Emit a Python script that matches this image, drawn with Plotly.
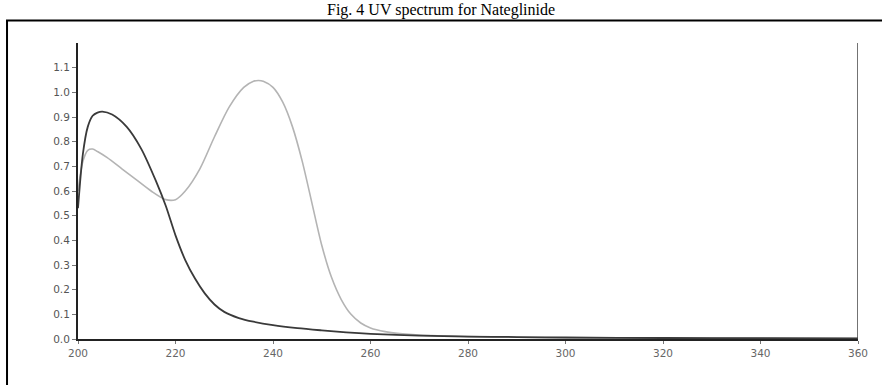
import plotly.graph_objects as go

# Wavelength (nm) and absorbance values
wl_dark = [200, 201, 202, 203, 204, 205, 207, 210, 213, 216, 218, 220, 222, 224, 226, 228, 230, 233, 236, 240, 245, 250, 255, 260, 270, 280, 290, 300, 320, 340, 360]
abs_dark = [0.53, 0.75, 0.86, 0.905, 0.918, 0.922, 0.91, 0.86, 0.77, 0.64, 0.54, 0.42, 0.32, 0.245, 0.185, 0.14, 0.11, 0.085, 0.07, 0.056, 0.044, 0.035, 0.027, 0.021, 0.014, 0.01, 0.008, 0.006, 0.004, 0.003, 0.002]

wl_gray = [200, 201, 202, 203, 204, 206, 209, 212, 215, 218, 220, 222, 225, 228, 231, 234, 236, 237, 238, 240, 242, 244, 246, 248, 250, 252, 254, 256, 258, 260, 263, 266, 270, 280, 290, 300, 320, 340, 360]
abs_gray = [0.6, 0.72, 0.765, 0.77, 0.76, 0.735, 0.69, 0.645, 0.6, 0.565, 0.565, 0.6, 0.69, 0.82, 0.94, 1.02, 1.045, 1.048, 1.045, 1.02, 0.96, 0.86, 0.72, 0.55, 0.38, 0.25, 0.16, 0.1, 0.065, 0.045, 0.03, 0.022, 0.016, 0.01, 0.007, 0.005, 0.004, 0.003, 0.002]

x_ticks = [200, 220, 240, 260, 280, 300, 320, 340, 360]
y_ticks = [0.0, 0.1, 0.2, 0.3, 0.4, 0.5, 0.6, 0.7, 0.8, 0.9, 1.0, 1.1]
title_text = "Fig. 4 UV spectrum for Nateglinide"

fig = go.Figure()
fig.add_trace(go.Scatter(x=wl_gray, y=abs_gray, mode="lines",
                         line=dict(color="#b4b4b4", width=1.6, shape="spline", smoothing=0.8),
                         showlegend=False))
fig.add_trace(go.Scatter(x=wl_dark, y=abs_dark, mode="lines",
                         line=dict(color="#3a3a3a", width=1.8, shape="spline", smoothing=0.8),
                         showlegend=False))

fig.update_layout(
    width=882, height=385,
    margin=dict(l=78, r=24, t=43, b=46),
    paper_bgcolor="white", plot_bgcolor="white",
    font=dict(family="DejaVu Sans", size=11, color="#555"),
    xaxis=dict(range=[200, 360], tickvals=x_ticks, ticktext=[str(v) for v in x_ticks],
               showgrid=False, zeroline=False, showline=True, linecolor="#222", linewidth=2,
               ticks="outside", ticklen=3, tickcolor="#777", tickfont=dict(size=10.5, color="#666")),
    yaxis=dict(range=[0, 1.2], tickvals=y_ticks, ticktext=[f"{v:.1f}" for v in y_ticks],
               showgrid=False, zeroline=False, showline=True, linecolor="#222", linewidth=2,
               ticks="outside", ticklen=4, tickcolor="#777", tickfont=dict(size=10.5, color="#555")),
    shapes=[
        dict(type="line", xref="x", yref="y", x0=360, x1=360, y0=0, y1=1.2,
             line=dict(color="#444", width=1.5)),
        dict(type="rect", xref="paper", yref="paper", x0=-0.091, x1=1.05, y0=-0.2, y1=1.076,
             line=dict(color="black", width=2)),
    ],
    annotations=[
        dict(text=title_text, xref="paper", yref="paper", x=0.465, y=1.145, xanchor="center",
             yanchor="top", showarrow=False, borderpad=0,
             font=dict(family="Liberation Serif", size=16, color="black")),
    ],
)

fig.write_html("out.html", config={"displayModeBar": False},
               post_script="document.body.style.margin='0px';")
